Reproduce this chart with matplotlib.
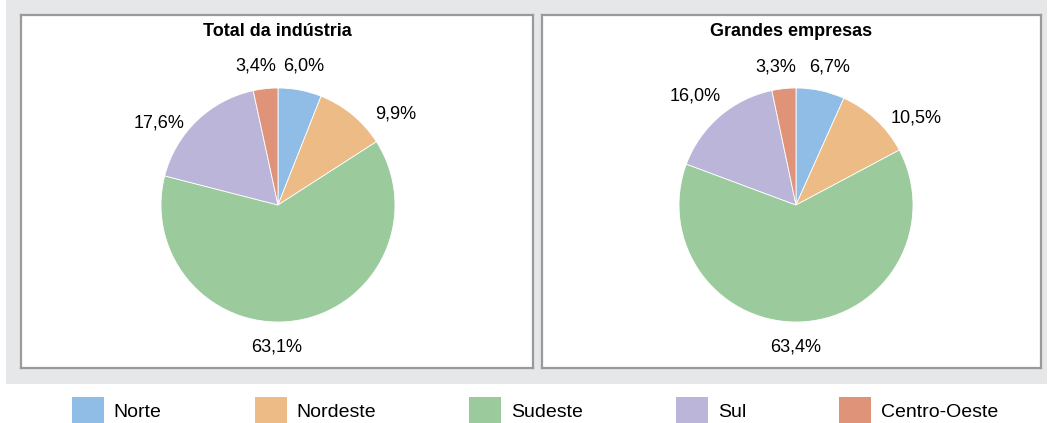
import matplotlib
matplotlib.use("Agg")
import matplotlib.pyplot as plt
from matplotlib.patches import Patch

regions = ["Norte", "Nordeste", "Sudeste", "Sul", "Centro-Oeste"]
colors = ["#8FBDE6", "#ECBB86", "#9BCA9C", "#BAB5D9", "#DF9379"]
titles = ["Total da indústria", "Grandes empresas"]
total_industria = [6.0, 9.9, 63.1, 17.6, 3.4]
grandes_empresas = [6.7, 10.5, 63.4, 16.0, 3.3]
series = [total_industria, grandes_empresas]

# label placement (layout, in pie-radius units relative to the pie centre)
label_layout = [
    [(0.222, 1.188), (1.009, 0.778), (-0.009, -1.214), (-1.017, 0.701), (-0.188, 1.188)],
    [(0.291, 1.179), (1.026, 0.744), (0.0, -1.214), (-0.863, 0.932), (-0.171, 1.179)],
]

W, H = 1052, 423
fig = plt.figure(figsize=(W / 100, H / 100), dpi=100)
fig.patch.set_facecolor("white")

def fx(px):
    return px / W

def fy(py):
    return 1 - py / H

# gray background panel
bg = fig.add_axes([fx(6), fy(384), fx(1047) - fx(6), fy(0) - fy(384)], zorder=-10)
bg.set_facecolor("#E6E7E8")
bg.set_xticks([]); bg.set_yticks([])
for s in bg.spines.values():
    s.set_visible(False)

boxes = [(21, 533), (542, 1041)]
centers = [278, 796]
R = 117
cy = 205

def fmt(v):
    return f"{v:.1f}".replace(".", ",") + "%"

for (x0, x1), cx, title, vals, lays in zip(boxes, centers, titles, series, label_layout):
    box = fig.add_axes([fx(x0), fy(368), fx(x1) - fx(x0), fy(15) - fy(368)], zorder=1)
    box.set_facecolor("white")
    box.set_xticks([]); box.set_yticks([])
    for s in box.spines.values():
        s.set_edgecolor("#9A9A9A"); s.set_linewidth(1.6)
    box.text(0.5, 1 - 17 / 353, title, transform=box.transAxes, ha="center",
             va="center", fontsize=13, fontweight="bold",
             family=["Liberation Sans Narrow", "Liberation Sans", "DejaVu Sans"])

    pax = fig.add_axes([fx(cx - R), fy(cy + R), fx(2 * R), fy(0) - fy(2 * R)], zorder=2)
    wedges, _ = pax.pie(vals, colors=colors, startangle=90, counterclock=False,
                        wedgeprops=dict(linewidth=0.6, edgecolor="white"))
    pax.set_xlim(-1, 1); pax.set_ylim(-1, 1)
    pax.set_aspect("equal")
    pax.axis("off")
    for v, (lx, ly) in zip(vals, lays):
        pax.text(lx, ly, fmt(v), ha="center", va="center", fontsize=13,
                 family=["Liberation Sans", "DejaVu Sans"])

handles = [Patch(facecolor=c, edgecolor="none") for c in colors]
fig.legend(handles, regions, loc="center", bbox_to_anchor=(535 / W, fy(411)), ncol=5,
           frameon=False, handlelength=1.64, handleheight=1.85,
           handletextpad=0.5, columnspacing=4.8,
           prop=dict(family=["Liberation Sans Narrow", "Liberation Sans", "DejaVu Sans"], size=14))

fig.savefig("out.png", dpi=100, facecolor="white")
